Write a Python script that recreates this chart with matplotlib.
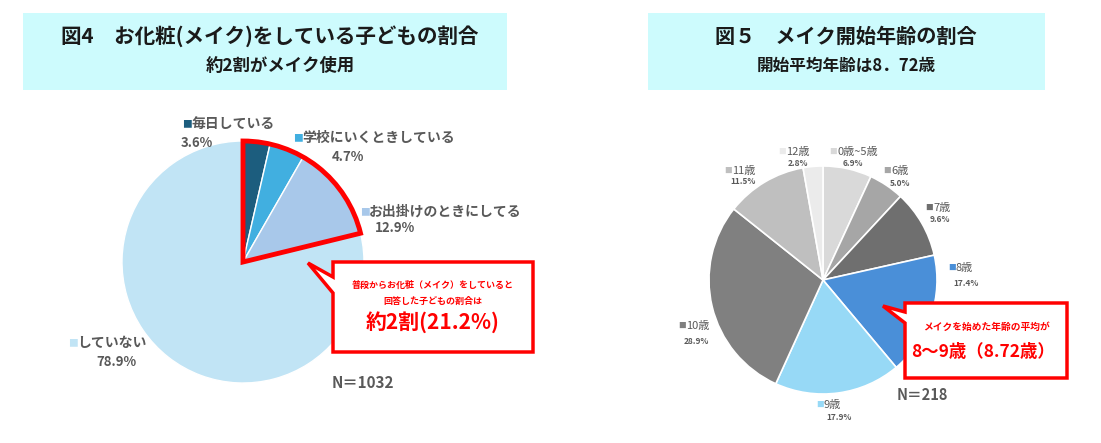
import matplotlib
matplotlib.use('Agg')
import matplotlib.pyplot as plt
from matplotlib.patches import Wedge, Polygon, Rectangle

plt.rcParams['font.family'] = ['Noto Sans CJK JP', 'DejaVu Sans']

# 図4 data
left_labels = ['毎日している', '学校にいくときしている', 'お出掛けのときにしてる', 'していない']
left_values = [3.6, 4.7, 12.9, 78.9]
left_colors = ['#1c5d7e', '#41afe0', '#a8c8ea', '#c1e4f5']
left_n = 1032

# 図5 data
right_labels = ['0歳~5歳', '6歳', '7歳', '8歳', '9歳', '10歳', '11歳', '12歳']
right_values = [6.9, 5.0, 9.6, 17.4, 17.9, 28.9, 11.5, 2.8]
right_colors = ['#d9d9d9', '#a6a6a6', '#6f6f6f', '#4a8fd8', '#97d9f6', '#808080', '#bfbfbf', '#ebebeb']
right_n = 218

W, H = 1101, 443
fig = plt.figure(figsize=(W / 100, H / 100), dpi=100)
GRAY = '#595959'
RED = '#ff0000'


def pie_axes(cx, cy, r):
    ax = fig.add_axes([(cx - r) / W, 1 - (cy + r) / H, 2 * r / W, 2 * r / H])
    return ax


# left pie
ax1 = pie_axes(243, 262, 121)
ax1.pie(left_values, colors=left_colors, startangle=90, counterclock=False,
        wedgeprops=dict(edgecolor='white', linewidth=1))
ax1.set_xlim(-1, 1)
ax1.set_ylim(-1, 1)
share = sum(left_values[:3]) / sum(left_values)
ax1.add_patch(Wedge((0, 0), 1.0, 90 - 360 * share, 90, fill=False,
                    edgecolor=RED, linewidth=3.5, joinstyle='miter', clip_on=False))

# right pie
ax2 = pie_axes(823, 280, 114)
ax2.pie(right_values, colors=right_colors, startangle=90, counterclock=False,
        wedgeprops=dict(edgecolor='white', linewidth=1.2))
ax2.set_xlim(-1, 1)
ax2.set_ylim(-1, 1)

# overlay for boxes and text (pixel coords)
ov = fig.add_axes([0, 0, 1, 1])
ov.set_xlim(0, W)
ov.set_ylim(H, 0)
ov.axis('off')

# title boxes
ov.add_patch(Rectangle((23, 13), 484, 77, facecolor='#cdfbfd', edgecolor='none'))
ov.add_patch(Rectangle((648, 13), 397, 77, facecolor='#cdfbfd', edgecolor='none'))
ov.text(270, 36, '図4　お化粧(メイク)をしている子どもの割合', ha='center', va='center',
        fontsize=14.8, fontweight='bold', color='#1a1a1a')
ov.text(280, 66, '約2割がメイク使用', ha='center', va='center',
        fontsize=12.5, fontweight='bold', color='#1a1a1a')
ov.text(846, 36, '図５　メイク開始年齢の割合', ha='center', va='center',
        fontsize=14.5, fontweight='bold', color='#1a1a1a')
ov.text(846, 66, '開始平均年齢は8．72歳', ha='center', va='center',
        fontsize=12, fontweight='bold', color='#1a1a1a')

# left labels: (label x, label y, pct x, pct y)
left_pos = [(182, 124, 181, 143), (293, 138, 332, 157), (360, 212, 375, 228), (68, 343, 96, 362)]
for lab, val, col, (lx, ly, px, py) in zip(left_labels, left_values, left_colors, left_pos):
    ov.text(lx, ly, '■', color=col, fontsize=7, va='center', ha='left')
    ov.text(lx + 9, ly, lab, color=GRAY, fontsize=10, fontweight='bold', va='center', ha='left')
    ov.text(px, py, f'{val:.1f}%', color=GRAY, fontsize=9.5, fontweight='bold', va='center', ha='left')

# right labels
right_pos = [(829, 152, 843, 163), (883, 171, 890, 184), (925, 208, 930, 219), (948, 268, 953, 283),
             (816, 405, 826, 418), (678, 326, 684, 341), (724, 171, 730, 182), (778, 152, 788, 163)]
for lab, val, col, (lx, ly, px, py) in zip(right_labels, right_values, right_colors, right_pos):
    ov.text(lx, ly, '■', color=col, fontsize=5.5, va='center', ha='left')
    ov.text(lx + 8, ly, lab, color=GRAY, fontsize=8, va='center', ha='left')
    ov.text(px, py, f'{val:.1f}%', color=GRAY, fontsize=6, fontweight='bold', va='center', ha='left')

# left callout
ov.add_patch(Polygon([(333, 262), (533, 262), (533, 352), (333, 352), (333, 293), (308, 263), (333, 277)],
                     closed=True, facecolor='white', edgecolor=RED, linewidth=2.5, joinstyle='miter'))
ov.text(433, 285, '普段からお化粧（メイク）をしていると', ha='center', va='center',
        fontsize=6.5, fontweight='bold', color=RED)
ov.text(433, 301, '回答した子どもの割合は', ha='center', va='center',
        fontsize=6.5, fontweight='bold', color=RED)
ov.text(433, 322, f'約2割({share * 100:.1f}%)', ha='center', va='center',
        fontsize=15, fontweight='bold', color=RED)
ov.text(332, 383, f'N＝{left_n}', ha='left', va='center', fontsize=11, fontweight='bold', color=GRAY)

# right callout
ov.add_patch(Polygon([(905, 303), (1067, 303), (1067, 378), (905, 378), (905, 323), (883, 306), (905, 312)],
                     closed=True, facecolor='white', edgecolor=RED, linewidth=2.5, joinstyle='miter'))
ov.text(986, 327, 'メイクを始めた年齢の平均が', ha='center', va='center',
        fontsize=7, fontweight='bold', color=RED)
ov.text(983, 352, '8～9歳（8.72歳）', ha='center', va='center',
        fontsize=12.5, fontweight='bold', color=RED)
ov.text(897, 395, f'N＝{right_n}', ha='left', va='center', fontsize=10.5, fontweight='bold', color=GRAY)

fig.savefig('out.png', dpi=100)
